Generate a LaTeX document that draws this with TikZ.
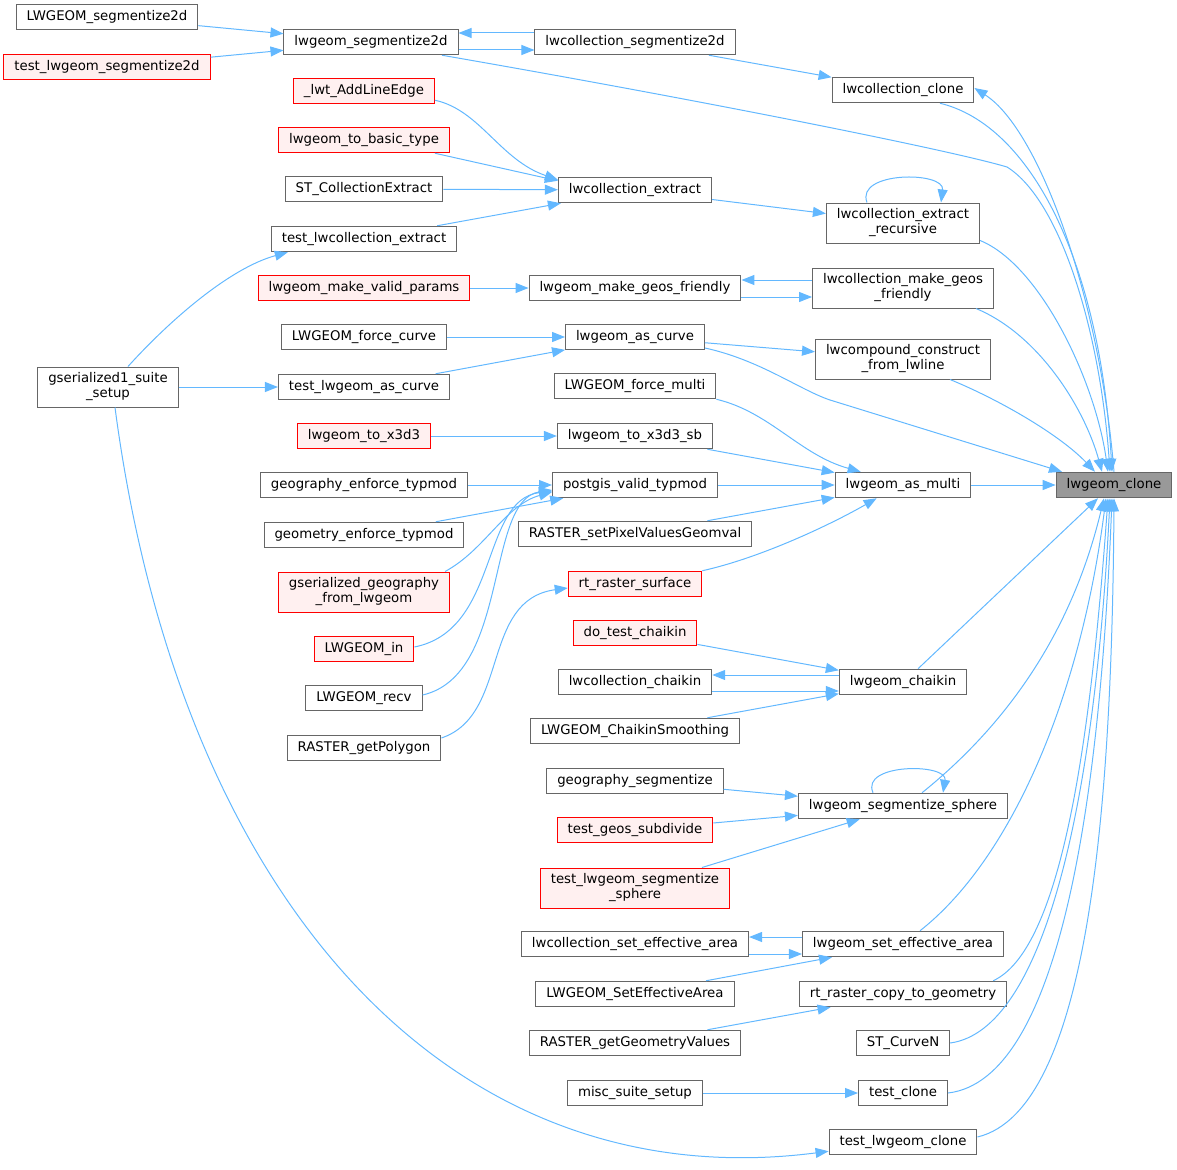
\documentclass[tikz,border=0pt]{standalone}
\usepackage{fontspec}
\setmainfont{DejaVu Sans}
\usetikzlibrary{arrows.meta}
\definecolor{edgeblue}{HTML}{63B8FF}
\definecolor{boxgray}{HTML}{666666}
\definecolor{rootfill}{HTML}{999999}
\definecolor{redfill}{HTML}{FFF0F0}
\begin{document}
\begin{tikzpicture}[x=1pt,y=-1pt,
  fn/.style={draw=boxgray, fill=white, line width=1pt, rectangle, inner xsep=10.5pt, inner ysep=2pt,
    minimum height=25.5pt, font=\fontsize{13.3}{15}\selectfont, align=center},
  fnred/.style={fn, draw=red, fill=redfill},
  fnroot/.style={fn, fill=rootfill},
  tall/.style={minimum height=40pt},
  call/.style={draw=edgeblue, line width=1pt, -{Triangle[length=13pt,width=10pt]}},
]
\useasboundingbox (0,0) rectangle (1177,1169);

% column 1
\node[fn] (LWGEOMseg2d) at (107,17) {LWGEOM\_segmentize2d};
\node[fnred] (testLwgeomSeg2d) at (107,67) {test\_lwgeom\_segmentize2d};
\node[fn,tall] (gser) at (108,387) {gserialized1\_suite\\\_setup};

% column 2
\node[fn] (lwgeomSeg2d) at (371,42) {lwgeom\_segmentize2d};
\node[fnred] (lwtAddLineEdge) at (364,91) {\_lwt\_AddLineEdge};
\node[fnred] (lwgeomToBasicType) at (364,140) {lwgeom\_to\_basic\_type};
\node[fn] (STCollExtract) at (364,189) {ST\_CollectionExtract};
\node[fn] (testLwcollExtract) at (364,239) {test\_lwcollection\_extract};
\node[fnred] (lwgeomMakeValidParams) at (364,288) {lwgeom\_make\_valid\_params};
\node[fn] (LWGEOMforceCurve) at (364,337) {LWGEOM\_force\_curve};
\node[fn] (testLwgeomAsCurve) at (364,387) {test\_lwgeom\_as\_curve};
\node[fnred] (lwgeomToX3d3) at (364,436) {lwgeom\_to\_x3d3};
\node[fn] (geographyEnforce) at (364,485) {geography\_enforce\_typmod};
\node[fn] (geometryEnforce) at (364,535) {geometry\_enforce\_typmod};
\node[fnred,tall] (gserGeog) at (364,592) {gserialized\_geography\\\_from\_lwgeom};
\node[fnred] (LWGEOMin) at (364,649) {LWGEOM\_in};
\node[fn] (LWGEOMrecv) at (364,698) {LWGEOM\_recv};
\node[fn] (RASTERgetPolygon) at (364,748) {RASTER\_getPolygon};

% column 3
\node[fn] (lwcollSeg2d) at (635,42) {lwcollection\_segmentize2d};
\node[fn] (lwcollExtract) at (635,190) {lwcollection\_extract};
\node[fn] (lwgeomMakeGeos) at (635,288) {lwgeom\_make\_geos\_friendly};
\node[fn] (lwgeomAsCurve) at (635,337) {lwgeom\_as\_curve};
\node[fn] (LWGEOMforceMulti) at (635,386) {LWGEOM\_force\_multi};
\node[fn] (lwgeomToX3d3sb) at (635,436) {lwgeom\_to\_x3d3\_sb};
\node[fn] (postgis) at (635,485) {postgis\_valid\_typmod};
\node[fn] (RASTERsetPixel) at (635,534) {RASTER\_setPixelValuesGeomval};
\node[fnred] (rtRasterSurface) at (635,584) {rt\_raster\_surface};
\node[fnred] (doTestChaikin) at (635,633) {do\_test\_chaikin};
\node[fn] (lwcollChaikin) at (635,682) {lwcollection\_chaikin};
\node[fn] (LWGEOMChaikin) at (635,731) {LWGEOM\_ChaikinSmoothing};
\node[fn] (geographySegmentize) at (635,781) {geography\_segmentize};
\node[fnred] (testGeosSubdivide) at (635,830) {test\_geos\_subdivide};
\node[fnred,tall] (testLwgeomSegSphere) at (635,888) {test\_lwgeom\_segmentize\\\_sphere};
\node[fn] (lwcollSetEff) at (635,944) {lwcollection\_set\_effective\_area};
\node[fn] (LWGEOMSetEff) at (635,994) {LWGEOM\_SetEffectiveArea};
\node[fn] (RASTERgetGeom) at (635,1043) {RASTER\_getGeometryValues};
\node[fn] (misc) at (635,1093) {misc\_suite\_setup};

% column 4
\node[fn] (lwcollClone) at (903,90) {lwcollection\_clone};
\node[fn,tall] (lwcollExtractRec) at (903,223) {lwcollection\_extract\\\_recursive};
\node[fn,tall] (lwcollMakeGeos) at (903,288) {lwcollection\_make\_geos\\\_friendly};
\node[fn,tall] (lwcompound) at (903,359) {lwcompound\_construct\\\_from\_lwline};
\node[fn] (lwgeomAsMulti) at (903,485) {lwgeom\_as\_multi};
\node[fn] (lwgeomChaikin) at (903,682) {lwgeom\_chaikin};
\node[fn] (segSphere) at (903,806) {lwgeom\_segmentize\_sphere};
\node[fn] (lwgeomSetEff) at (903,944) {lwgeom\_set\_effective\_area};
\node[fn] (rtRasterCopy) at (903,994) {rt\_raster\_copy\_to\_geometry};
\node[fn] (STCurveN) at (903,1043) {ST\_CurveN};
\node[fn] (testClone) at (903,1093) {test\_clone};
\node[fn] (testLwgeomClone) at (903,1142) {test\_lwgeom\_clone};

% root
\node[fnroot] (lwgeomClone) at (1114,485) {lwgeom\_clone};

% ---- edges ----
\draw[call] (LWGEOMseg2d) -- (lwgeomSeg2d);
\draw[call] (testLwgeomSeg2d) -- (lwgeomSeg2d);
\draw[call] ([yshift=9pt]lwcollSeg2d.west) -- ([yshift=9pt]lwgeomSeg2d.east);
\draw[call] ([yshift=-8pt]lwgeomSeg2d.east) -- ([yshift=-8pt]lwcollSeg2d.west);
\draw[call] (lwcollSeg2d) -- (lwcollClone);
\draw[call] ([xshift=71pt]lwgeomSeg2d.south) .. controls (700,100) and (950,150) .. (1007,167)
   .. controls (1060,200) and (1100,330) .. ([xshift=-4pt]lwgeomClone.north);

\draw[call] ([yshift=4pt]lwtAddLineEdge.south east) .. controls (480,110) and (500,160) .. ([yshift=-3pt]lwcollExtract.north west);
\draw[call] ([xshift=-15pt]lwgeomToBasicType.south east) -- ([yshift=-4pt]lwcollExtract.north west);
\draw[call] (STCollExtract) -- (lwcollExtract);
\draw[call] ([xshift=-20pt]testLwcollExtract.north east) -- ([xshift=3pt]lwcollExtract.south west);
\draw[call] (lwcollExtract) -- (lwcollExtractRec);
\draw[call] ([xshift=-36pt]lwcollExtractRec.north) .. controls (855,171) and (945,171) .. ([xshift=38pt]lwcollExtractRec.north);
\draw[call] ([yshift=3pt]lwcollExtractRec.south east) .. controls (1040,265) and (1095,380) .. ([xshift=-6pt]lwgeomClone.north);

\draw[call] ([xshift=20pt]gser.north) .. controls (170,320) and (230,268) .. ([xshift=17pt]testLwcollExtract.south west);
\draw[call] (gser) -- (testLwgeomAsCurve);
\draw[call] ([xshift=7pt]gser.south) .. controls (180,900) and (450,1200) .. ([yshift=4pt]testLwgeomClone.south west);

\draw[call] (lwgeomMakeValidParams) -- (lwgeomMakeGeos);
\draw[call] ([yshift=8pt]lwcollMakeGeos.west) -- ([yshift=8pt]lwgeomMakeGeos.east);
\draw[call] ([yshift=-9pt]lwgeomMakeGeos.east) -- ([yshift=-9pt]lwcollMakeGeos.west);
\draw[call] ([xshift=-18pt]lwcollMakeGeos.south east) .. controls (1040,335) and (1085,410) .. ([xshift=-12pt]lwgeomClone.north);

\draw[call] (LWGEOMforceCurve) -- (lwgeomAsCurve);
\draw[call] (testLwgeomAsCurve) -- (lwgeomAsCurve);
\draw[call] (lwgeomAsCurve) -- (lwcompound);
\draw[call] ([yshift=-11pt]lwgeomAsCurve.east) .. controls (760,360) and (800,390) .. (830,400) -- ([xshift=-52pt]lwgeomClone.north);
\draw[call] ([xshift=47pt]lwcompound.south) .. controls (1000,400) and (1060,435) .. ([xshift=-19pt]lwgeomClone.north);

\draw[call] (LWGEOMforceMulti.south east) .. controls (770,412) and (800,455) .. ([xshift=26pt]lwgeomAsMulti.north west);
\draw[call] (lwgeomToX3d3) -- (lwgeomToX3d3sb);
\draw[call] (lwgeomToX3d3sb) -- (lwgeomAsMulti);
\draw[call] (geographyEnforce) -- (postgis);
\draw[call] (geometryEnforce) -- (postgis);
\draw[call] ([xshift=-5pt]gserGeog.north east) .. controls (485,550) and (505,505) .. ([yshift=-7pt]postgis.west);
\draw[call] ([yshift=2pt]LWGEOMin.east) .. controls (500,630) and (480,500) .. ([yshift=-6pt]postgis.west);
\draw[call] ([yshift=3pt]LWGEOMrecv.east) .. controls (510,675) and (485,500) .. ([yshift=-5pt]postgis.west);
\draw[call] (postgis) -- (lwgeomAsMulti);
\draw[call] (RASTERsetPixel) -- (lwgeomAsMulti);
\draw[call] ([yshift=10pt]RASTERgetPolygon.east) .. controls (510,715) and (480,600) .. ([yshift=-4pt]rtRasterSurface.west);
\draw[call] (rtRasterSurface.north east) .. controls (760,558) and (830,525) .. ([xshift=42pt]lwgeomAsMulti.south west);
\draw[call] (lwgeomAsMulti) -- (lwgeomClone);

\draw[call] (doTestChaikin) -- (lwgeomChaikin);
\draw[call] ([yshift=7pt]lwgeomChaikin.west) -- ([yshift=7pt]lwcollChaikin.east);
\draw[call] ([yshift=-9pt]lwcollChaikin.east) -- ([yshift=-9pt]lwgeomChaikin.west);
\draw[call] (LWGEOMChaikin) -- (lwgeomChaikin);
\draw[call] ([xshift=15pt]lwgeomChaikin.north) -- ([xshift=-16pt]lwgeomClone.south);

\draw[call] (geographySegmentize) -- (segSphere);
\draw[call] (testGeosSubdivide) -- (segSphere);
\draw[call] (testLwgeomSegSphere) -- (segSphere);
\draw[call] ([xshift=-30pt]segSphere.north) .. controls (860,763) and (948,763) .. ([xshift=40pt]segSphere.north);
\draw[call] ([xshift=19pt]segSphere.north) .. controls (1000,730) and (1070,640) .. ([xshift=-10pt]lwgeomClone.south);

\draw[call] ([yshift=7pt]lwgeomSetEff.west) -- ([yshift=7pt]lwcollSetEff.east);
\draw[call] ([yshift=-10pt]lwcollSetEff.east) -- ([yshift=-10pt]lwgeomSetEff.west);
\draw[call] (LWGEOMSetEff) -- (lwgeomSetEff);
\draw[call] ([xshift=17pt]lwgeomSetEff.north) .. controls (1010,860) and (1080,700) .. ([xshift=-8pt]lwgeomClone.south);
\draw[call] (RASTERgetGeom) -- (rtRasterCopy);
\draw[call] ([xshift=-14pt]rtRasterCopy.north east) .. controls (1060,950) and (1090,750) .. ([xshift=-6pt]lwgeomClone.south);
\draw[call] (STCurveN.east) .. controls (1045,1030) and (1095,800) .. ([xshift=-4pt]lwgeomClone.south);
\draw[call] (misc) -- (testClone);
\draw[call] (testClone.east) .. controls (1060,1080) and (1100,800) .. ([xshift=-2pt]lwgeomClone.south);
\draw[call] ([yshift=5pt]testLwgeomClone.east) .. controls (1090,1110) and (1112,800) .. (lwgeomClone.south);

\draw[call] (lwgeomClone.north) .. controls (1100,300) and (1040,130) .. ([yshift=2pt]lwcollClone.east);
\draw[call] ([xshift=37pt]lwcollClone.south) .. controls (1030,125) and (1100,260) .. ([xshift=-2pt]lwgeomClone.north);
\end{tikzpicture}
\end{document}
